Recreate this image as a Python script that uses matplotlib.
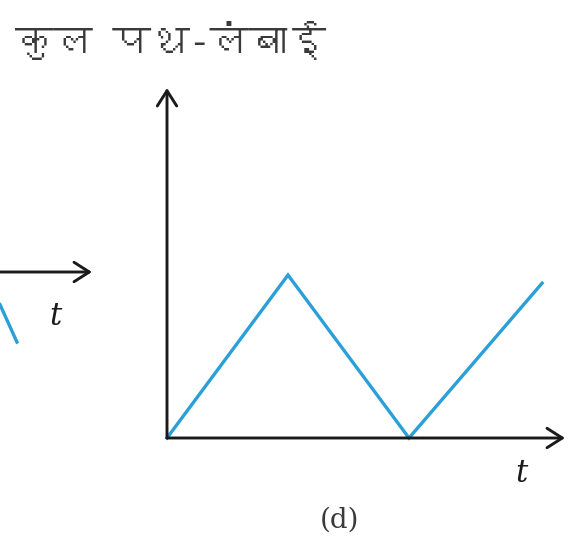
import matplotlib
matplotlib.use("Agg")
import matplotlib.pyplot as plt
from matplotlib import font_manager
from matplotlib.ft2font import FT2Font

# data: total path length vs time, panel (d)
t_vals = [0, 1, 2, 3.1]
path_vals = [0, 1, 0, 0.95]

# tail of the previous panel (c) on the left edge
c_t = [2.6, 2.74]
c_vals = [-0.2, -0.43]

title_text = "कुल पथ-लंबाई"
x_label = "t"
panel_label = "(d)"

blue = "#2a9fd8"
axis_col = "#1a1a1a"

# find a font that has Devanagari glyphs
deva_font = None
for f in font_manager.fontManager.ttflist:
    try:
        if 0x0915 in FT2Font(f.fname).get_charmap():
            deva_font = f.name
            break
    except Exception:
        pass
families = ([deva_font] if deva_font else []) + ["DejaVu Sans"]

W, H = 569, 554
fig = plt.figure(figsize=(W / 100, H / 100), dpi=100)

# main axes: origin at (167, 438) px, 121 px per time unit, 163 px per path unit
ax = fig.add_axes([167 / W, (H - 438) / H, (565 - 167) / W, (438 - 88) / H])
ax.set_xlim(0, (565 - 167) / 121)
ax.set_ylim(0, (438 - 88) / 163)
ax.axis("off")
ax.plot(t_vals, path_vals, color=blue, lw=2.4, clip_on=False, solid_joinstyle="miter")

arrow = dict(arrowstyle="->,head_length=1.1,head_width=0.7", color=axis_col, lw=2.1,
             shrinkA=0, shrinkB=0)
ax.annotate("", xy=(1, 0), xytext=(0, 0), xycoords="axes fraction", arrowprops=arrow)
ax.annotate("", xy=(0, 1), xytext=(0, 0), xycoords="axes fraction", arrowprops=arrow)
ax.text(0.89, -0.1, x_label, transform=ax.transAxes, fontsize=22, family="DejaVu Serif",
        style="italic", color=axis_col, ha="center", va="center")

# left fragment
ax2 = fig.add_axes([0, (H - 272 - 163) / H, 92 / W, 326 / H])
ax2.set_xlim(2.6, 2.6 + 92 / 121)
ax2.set_ylim(-1, 1)
ax2.axis("off")
ax2.plot(c_t, c_vals, color=blue, lw=2.4, clip_on=False)
ax2.annotate("", xy=(1, 0.5), xytext=(-0.05, 0.5), xycoords="axes fraction", arrowprops=arrow)
ax2.text(0.6, 0.365, x_label, transform=ax2.transAxes, fontsize=22, family="DejaVu Serif",
         style="italic", color=axis_col, ha="center", va="center")

fig.text(15 / W, 1 - 40 / H, title_text, fontsize=28, family=families, color="#3a3a3a",
         ha="left", va="center")
fig.text(340 / W, 1 - 520 / H, panel_label, fontsize=20, family="DejaVu Serif",
         color="#3a3a3a", ha="center", va="center")

fig.savefig("out.png", dpi=100, facecolor="white")
